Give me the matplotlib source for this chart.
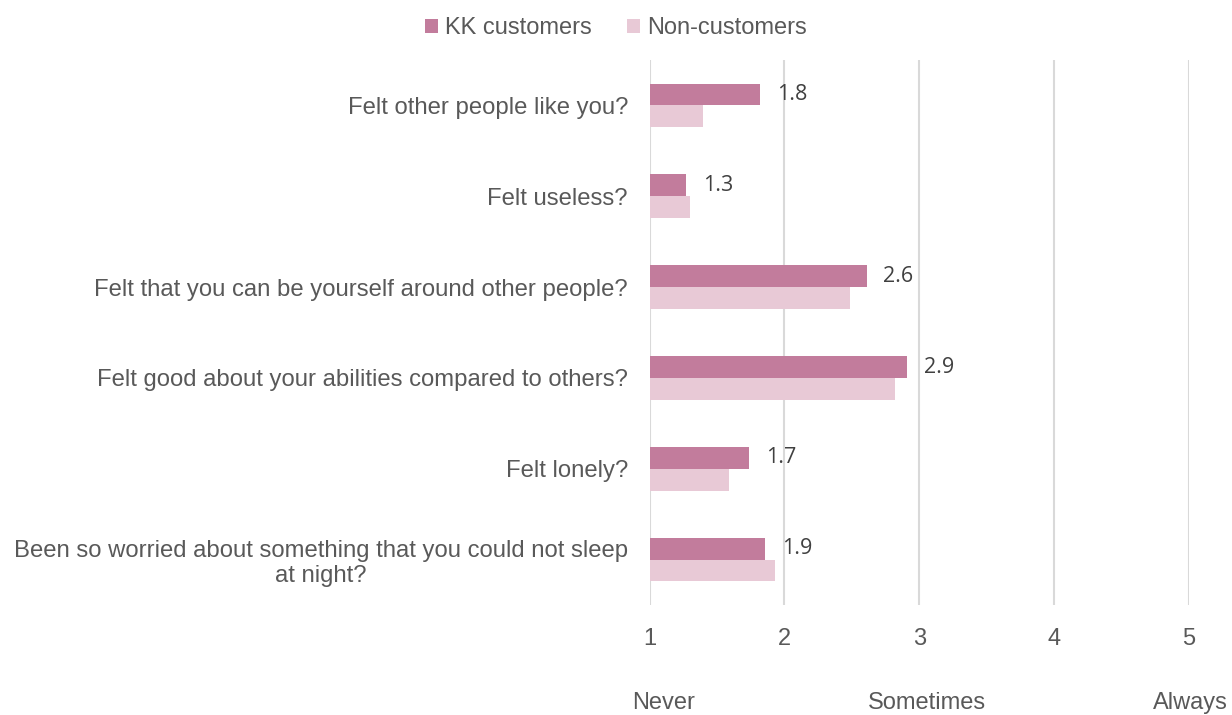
import matplotlib
matplotlib.use("Agg")
import matplotlib.pyplot as plt
import numpy as np

categories = [
    "Felt other people like you?",
    "Felt useless?",
    "Felt that you can be yourself around other people?",
    "Felt good about your abilities compared to others?",
    "Felt lonely?",
    "Been so worried about something that you could not sleep\nat night?",
]
kk_customers = [1.82, 1.27, 2.61, 2.91, 1.74, 1.86]
non_customers = [1.40, 1.30, 2.49, 2.82, 1.59, 1.93]
kk_labels = ["1.8", "1.3", "2.6", "2.9", "1.7", "1.9"]
x_ticks = [1, 2, 3, 4, 5]
scale_labels = ["Never", "Sometimes", "Always"]
scale_positions = [1.107, 3.055, 5.01]

KK_COLOR = "#C27C9C"
NON_COLOR = "#E8C9D6"
TEXT = "#595959"

plt.rcParams["font.family"] = ["Liberation Sans", "DejaVu Sans"]

fig = plt.figure(figsize=(12.32, 7.15), dpi=100)
ax = fig.add_axes([649.5 / 1232, 1 - 605 / 715, (1189 - 649.5) / 1232, (605 - 60) / 715])

y = np.arange(len(categories))
h = 0.24
base = 1
ax.barh(y - h / 2, np.array(kk_customers) - base, left=base, height=h, color=KK_COLOR, label="KK customers", zorder=3)
ax.barh(y + h / 2, np.array(non_customers) - base, left=base, height=h, color=NON_COLOR, label="Non-customers", zorder=3)

for yi, v, lab in zip(y, kk_customers, kk_labels):
    ax.annotate(lab, xy=(v, yi - h / 2), xytext=(12, 0), textcoords="offset points",
                ha="left", va="center", fontsize=15.5, color="#404040", family=["Open Sans", "DejaVu Sans"])

ax.set_xlim(1, 5)
ax.set_ylim(len(categories) - 0.5, -0.5)
ax.set_xticks(x_ticks)
ax.set_xticklabels([str(t) for t in x_ticks], fontsize=17, color=TEXT)
ax.set_yticks(y)
ax.set_yticklabels(categories, fontsize=17.2, color=TEXT, multialignment="center")
ax.tick_params(axis="both", length=0)
ax.tick_params(axis="x", pad=16.5)
ax.tick_params(axis="y", pad=15.5)
for s in ax.spines.values():
    s.set_visible(False)
ax.xaxis.grid(True, color="#D9D9D9", linewidth=1.5, zorder=0)
ax.set_axisbelow(True)

for lab, pos in zip(scale_labels, scale_positions):
    xd = ax.transData.transform((pos, 0))[0]
    fig.text(xd / 1232, 1 - 709 / 715, lab, ha="center", va="baseline", fontsize=17, color=TEXT)

leg = fig.legend(loc="center", bbox_to_anchor=(616 / 1232, 1 - 28 / 715), ncol=2, frameon=False,
                 fontsize=17, handlelength=0.55, handleheight=0.55, handletextpad=0.3, columnspacing=1.5)
for t in leg.get_texts():
    t.set_color(TEXT)

fig.savefig("out.png", dpi=100)
